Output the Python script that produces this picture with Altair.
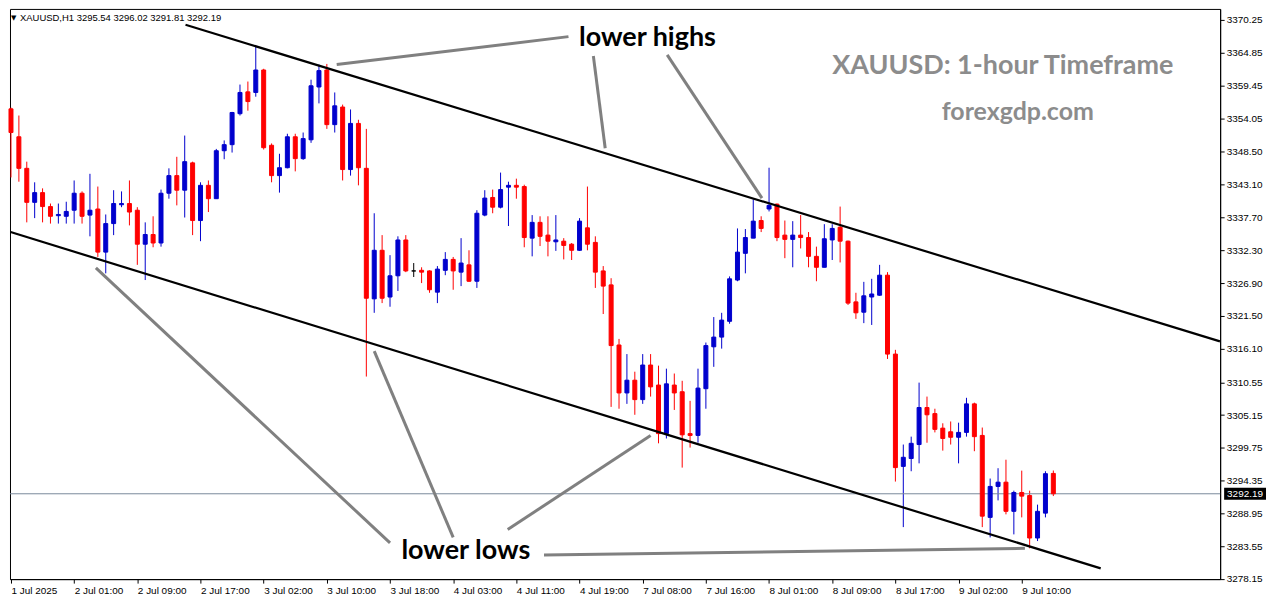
import altair as alt
import pandas as pd

# ---------------- data ----------------
bar_open = [3355.6, 3351.0, 3345.8, 3340.2, 3341.8, 3339.5, 3338.0, 3337.9, 3338.9, 3341.7,
            3338.1, 3339.1, 3332.0, 3336.7, 3339.8, 3340.0, 3338.9, 3333.3, 3334.9, 3333.5,
            3341.7, 3344.6, 3342.2, 3346.7, 3337.2, 3343.0, 3340.8, 3348.7, 3349.7, 3354.8,
            3358.4, 3358.3, 3362.0, 3349.6, 3344.6, 3345.9, 3351.0, 3347.4, 3350.5, 3359.2,
            3362.0, 3353.0, 3355.9, 3345.6, 3353.2, 3345.8, 3324.3, 3332.3, 3324.6, 3328.1,
            3334.0, 3328.9, 3329.0, 3328.9, 3325.4, 3329.0, 3330.8, 3328.7, 3329.9, 3327.2,
            3338.1, 3341.0, 3339.4, 3342.7, 3343.0, 3342.8, 3334.3, 3336.9, 3334.8, 3333.7,
            3333.8, 3333.3, 3332.3, 3336.0, 3333.6, 3328.9, 3326.6, 3316.7, 3308.8, 3310.9,
            3307.7, 3313.4, 3310.1, 3302.1, 3310.1, 3309.0, 3302.1, 3301.8, 3309.5, 3316.4,
            3318.0, 3320.6, 3327.4, 3331.8, 3334.3, 3337.2, 3339.1, 3339.9, 3334.8, 3334.1,
            3334.8, 3334.4, 3331.3, 3329.5, 3334.0, 3336.1, 3333.8, 3323.8, 3322.1, 3324.6,
            3324.9, 3328.2, 3315.2, 3296.7, 3298.0, 3300.3, 3306.4, 3305.4, 3303.0, 3302.4,
            3301.5, 3302.3, 3307.0, 3301.8, 3288.3, 3293.4, 3294.1, 3289.3, 3292.4, 3291.9,
            3284.9, 3289.0, 3295.54]
bar_high = [3355.8, 3354.5, 3346.9, 3343.5, 3342.5, 3340.0, 3340.0, 3340.3, 3343.8, 3342.0,
            3344.9, 3342.8, 3338.2, 3342.2, 3342.0, 3343.8, 3339.4, 3336.9, 3337.9, 3342.3,
            3345.8, 3347.7, 3351.2, 3346.9, 3343.5, 3343.8, 3349.0, 3350.4, 3355.1, 3359.6,
            3360.1, 3366.0, 3362.2, 3349.9, 3348.2, 3351.5, 3351.5, 3351.7, 3360.4, 3362.9,
            3363.0, 3358.3, 3356.3, 3355.5, 3353.8, 3352.3, 3338.4, 3334.8, 3331.5, 3334.6,
            3334.8, 3330.2, 3329.5, 3329.0, 3329.7, 3332.0, 3331.2, 3334.3, 3332.3, 3338.9,
            3342.2, 3342.3, 3345.1, 3343.6, 3344.1, 3343.1, 3338.1, 3337.9, 3337.9, 3338.1,
            3334.3, 3333.5, 3337.6, 3342.8, 3334.6, 3329.7, 3327.7, 3317.7, 3315.2, 3312.3,
            3315.2, 3315.2, 3313.3, 3312.8, 3312.0, 3310.8, 3307.5, 3312.8, 3317.1, 3321.3,
            3322.0, 3328.0, 3335.9, 3335.8, 3340.7, 3337.9, 3345.9, 3340.0, 3337.2, 3337.1,
            3338.1, 3335.3, 3332.9, 3336.6, 3336.6, 3339.5, 3333.9, 3325.3, 3327.1, 3327.6,
            3329.9, 3328.7, 3315.9, 3300.3, 3301.6, 3310.5, 3308.2, 3306.2, 3303.8, 3304.1,
            3303.9, 3308.0, 3307.2, 3303.1, 3294.7, 3296.4, 3297.8, 3292.7, 3296.0, 3292.7,
            3290.4, 3295.9, 3296.02]
bar_low = [3344.3, 3343.6, 3336.9, 3337.6, 3336.9, 3336.7, 3336.7, 3336.7, 3336.7, 3336.7,
           3334.6, 3331.2, 3328.5, 3334.8, 3339.4, 3336.4, 3329.9, 3327.4, 3332.8, 3332.9,
           3340.8, 3339.7, 3337.7, 3334.8, 3333.8, 3338.6, 3340.8, 3347.3, 3348.4, 3354.5,
           3355.3, 3357.6, 3348.9, 3343.5, 3341.8, 3345.8, 3345.3, 3347.2, 3350.0, 3356.5,
           3352.3, 3351.7, 3343.8, 3344.6, 3343.0, 3311.5, 3322.0, 3323.6, 3323.0, 3325.6,
           3328.7, 3327.9, 3326.9, 3325.3, 3323.6, 3328.2, 3325.8, 3326.4, 3327.1, 3326.1,
           3337.9, 3338.4, 3339.2, 3336.3, 3340.8, 3332.8, 3331.3, 3333.0, 3331.3, 3332.2,
           3330.8, 3330.7, 3332.2, 3332.3, 3326.1, 3321.8, 3306.5, 3306.2, 3307.0, 3305.2,
           3307.0, 3308.2, 3300.5, 3301.3, 3306.0, 3296.5, 3299.8, 3300.6, 3306.2, 3313.1,
           3316.1, 3320.2, 3327.2, 3328.5, 3334.3, 3335.3, 3338.7, 3333.8, 3331.0, 3329.5,
           3332.6, 3329.5, 3327.2, 3329.5, 3330.7, 3330.3, 3323.3, 3321.0, 3320.3, 3320.0,
           3324.8, 3314.4, 3294.2, 3286.7, 3295.9, 3297.2, 3300.6, 3302.3, 3299.3, 3300.3,
           3297.2, 3301.6, 3299.2, 3286.7, 3285.0, 3291.1, 3288.8, 3285.5, 3288.3, 3283.2,
           3284.4, 3288.3, 3291.81]
bar_close = [3351.7, 3345.8, 3340.2, 3341.8, 3339.5, 3337.9, 3338.2, 3338.7, 3341.7, 3337.9,
             3338.9, 3332.0, 3336.7, 3340.0, 3340.0, 3338.6, 3333.3, 3334.9, 3333.5, 3341.7,
             3344.6, 3342.2, 3346.9, 3337.2, 3343.0, 3340.8, 3348.7, 3349.7, 3355.0, 3358.3,
             3356.8, 3362.0, 3349.2, 3344.6, 3345.9, 3351.0, 3347.4, 3350.7, 3359.4, 3361.9,
             3353.0, 3356.1, 3345.6, 3353.2, 3345.9, 3324.4, 3332.3, 3324.4, 3328.1, 3334.0,
             3328.9, 3328.9, 3328.7, 3325.8, 3329.2, 3330.8, 3328.9, 3330.2, 3327.2, 3338.4,
             3340.9, 3339.4, 3342.3, 3343.0, 3342.7, 3334.4, 3336.9, 3334.6, 3333.8, 3334.0,
             3333.1, 3332.3, 3337.1, 3333.3, 3328.7, 3326.4, 3316.6, 3308.8, 3310.9, 3307.7,
             3313.4, 3309.8, 3302.1, 3310.3, 3308.8, 3301.9, 3301.8, 3309.6, 3316.6, 3318.0,
             3320.8, 3327.6, 3332.0, 3334.4, 3337.1, 3335.9, 3339.7, 3334.4, 3334.1, 3334.8,
             3334.4, 3331.3, 3329.5, 3334.2, 3335.9, 3333.8, 3323.6, 3322.0, 3324.8, 3325.1,
             3328.2, 3315.2, 3296.5, 3298.2, 3300.5, 3306.4, 3305.2, 3302.8, 3301.3, 3301.5,
             3302.3, 3307.0, 3301.6, 3288.5, 3293.4, 3294.1, 3289.3, 3292.4, 3291.8, 3284.9,
             3289.3, 3295.5, 3292.19]

x_tick_bars = [0, 8, 16, 24, 32, 40, 48, 56, 64, 72, 80, 88, 96, 104, 112, 120, 128]
x_tick_labels = ["1 Jul 2025", "2 Jul 01:00", "2 Jul 09:00", "2 Jul 17:00", "3 Jul 02:00",
                 "3 Jul 10:00", "3 Jul 18:00", "4 Jul 03:00", "4 Jul 11:00", "4 Jul 19:00",
                 "7 Jul 08:00", "7 Jul 16:00", "8 Jul 01:00", "8 Jul 09:00", "8 Jul 17:00",
                 "9 Jul 02:00", "9 Jul 10:00"]
y_tick_values = [3370.25, 3364.85, 3359.45, 3354.05, 3348.50, 3343.10, 3337.70, 3332.30,
                 3326.90, 3321.50, 3316.10, 3310.55, 3305.15, 3299.75, 3294.35, 3288.95,
                 3283.55, 3278.15]

# channel lines (bar index, price)
channel_x1 = [22.1, -0.05]
channel_y1 = [3369.45, 3335.3]
channel_x2 = [153.1, 138.0]
channel_y2 = [3317.3, 3279.9]

# grey pointer lines of the annotations (bar index, price)
pointer_x1 = [41.25, 73.75, 83.1, 10.75, 46.0, 62.9, 67.5]
pointer_y1 = [3362.9, 3364.3, 3364.5, 3329.4, 3315.7, 3286.3, 3282.1]
pointer_x2 = [70.6, 75.25, 95.1, 48.0, 56.0, 81.0, 128.4]
pointer_y2 = [3367.5, 3349.1, 3340.9, 3284.1, 3285.0, 3301.8, 3283.2]

note_text = ["lower highs", "lower lows"]
note_x = [80.6, 57.6]
note_y = [3367.3, 3282.7]

title_text = "XAUUSD: 1-hour Timeframe"
title_x, title_y = 125.6, 3362.7
site_text = "forexgdp.com"
site_x, site_y = 127.5, 3355.1

last_price = 3292.19
header_text = "XAUUSD,H1  3295.54 3296.02 3291.81 3292.19"

# ---------------- layout / style ----------------
W, H = 1214, 572
FONT = "Liberation Sans"
BOX_HALF = 1.0  # half height of the price tag, in price units

candles = pd.DataFrame({"bar": list(range(len(bar_open))), "open": bar_open,
                        "high": bar_high, "low": bar_low, "close": bar_close})
candles["dir"] = [
    "doji" if c == o else ("up" if c > o else "down")
    for o, c in zip(candles["open"], candles["close"])
]
candles["top"] = candles[["open", "close"]].max(axis=1)
candles["bottom"] = candles[["open", "close"]].min(axis=1)

xs = alt.Scale(domain=[-0.125, 153.125], nice=False, zero=False, padding=0)
ys = alt.Scale(domain=[3278.13, 3372.06], nice=False, zero=False, padding=0)
col = alt.Scale(domain=["up", "down", "doji"], range=["#0000CD", "#FF0000", "#000000"])

label_expr = "[" + ",".join("'%s'" % t for t in x_tick_labels) + "][round(datum.value/8)]"

x_axis = alt.Axis(values=x_tick_bars, labelExpr=label_expr, title=None, grid=False,
                  labelAlign="left", labelPadding=2, labelFontSize=10, labelFont=FONT,
                  labelColor="black", tickColor="black", tickSize=4, domainColor="black",
                  labelOverlap=False, labelFlush=False)
y_axis = alt.Axis(orient="right", values=y_tick_values, format=".2f", title=None, grid=False,
                  labelFontSize=10, labelFont=FONT, labelColor="black", tickColor="black",
                  tickSize=4, labelPadding=2, domainColor="black", labelOverlap=False,
                  labelFlush=False, labelBound=False)


def X(field):
    return alt.X(field, scale=xs, axis=x_axis)


def Y(field):
    return alt.Y(field, scale=ys, axis=y_axis)


base = alt.Chart(candles)

wicks = base.mark_rule(strokeWidth=1).encode(
    x=X("bar:Q"), y=Y("low:Q"), y2="high:Q",
    color=alt.Color("dir:N", scale=col, legend=None),
)
bodies = base.mark_bar(size=4, strokeWidth=1).encode(
    x=X("bar:Q"), y=Y("bottom:Q"), y2="top:Q",
    color=alt.Color("dir:N", scale=col, legend=None),
    stroke=alt.Stroke("dir:N", scale=col, legend=None),
)

price_df = pd.DataFrame({"price": [last_price], "top": [last_price + BOX_HALF],
                         "bottom": [last_price - BOX_HALF], "label": ["%.2f" % last_price]})
price_line = alt.Chart(price_df).mark_rule(color="#7a8a9c", strokeWidth=1).encode(
    y=Y("price:Q"), x=alt.value(0), x2=alt.value(W))

chan_df = pd.DataFrame({"x1": channel_x1, "y1": channel_y1, "x2": channel_x2, "y2": channel_y2})
channels = alt.Chart(chan_df).mark_rule(color="black", strokeWidth=2.2).encode(
    x=X("x1:Q"), y=Y("y1:Q"), x2="x2:Q", y2="y2:Q")

ptr_df = pd.DataFrame({"x1": pointer_x1, "y1": pointer_y1, "x2": pointer_x2, "y2": pointer_y2})
pointers = alt.Chart(ptr_df).mark_rule(color="#808080", strokeWidth=3).encode(
    x=X("x1:Q"), y=Y("y1:Q"), x2="x2:Q", y2="y2:Q")

note_df = pd.DataFrame({"t": note_text, "x": note_x, "y": note_y})
notes = alt.Chart(note_df).mark_text(font="Lato", fontWeight="bold", fontSize=27,
                                     color="black", baseline="middle").encode(
    x=X("x:Q"), y=Y("y:Q"), text="t:N")

title_df = pd.DataFrame({"t": [title_text], "x": [title_x], "y": [title_y]})
title_mark = alt.Chart(title_df).mark_text(font="Lato", fontWeight="bold", fontSize=27,
                                           color="#8c8c8c", baseline="middle").encode(
    x=X("x:Q"), y=Y("y:Q"), text="t:N")

site_df = pd.DataFrame({"t": [site_text], "x": [site_x], "y": [site_y]})
site_mark = alt.Chart(site_df).mark_text(font="Lato", fontWeight="bold", fontSize=25,
                                         color="#8c8c8c", baseline="middle").encode(
    x=X("x:Q"), y=Y("y:Q"), text="t:N")

tag_box = alt.Chart(price_df).mark_rect(color="black").encode(
    x=alt.value(W + 4), x2=alt.value(W + 46),
    y=Y("top:Q"), y2="bottom:Q")
tag_text = alt.Chart(price_df).mark_text(color="white", font=FONT, fontSize=10,
                                         align="center", baseline="middle").encode(
    x=alt.value(W + 25), y=Y("price:Q"), text="label:N")

header_df = pd.DataFrame({"t": [header_text], "tri": ["\u25BC"]})
header = alt.Chart(header_df).mark_text(font=FONT, fontSize=9.5, color="black",
                                        align="left", baseline="middle").encode(
    x=alt.value(10), y=alt.value(9), text="t:N")
tri = alt.Chart(header_df).mark_text(font="DejaVu Sans", fontSize=7, color="black",
                                     align="left", baseline="middle").encode(
    x=alt.value(1), y=alt.value(9), text="tri:N")

chart = alt.layer(
    wicks, price_line, bodies, channels, pointers, notes, title_mark, site_mark,
    tag_box, tag_text, header, tri
).properties(
    width=W, height=H, padding={"left": 0, "top": 0, "right": 2, "bottom": 0},
    background="white",
).configure_view(stroke="black", strokeWidth=1).configure_axis(labelOverlap=False)

chart.save("out.html", embed_options={"renderer": "svg", "actions": False})
